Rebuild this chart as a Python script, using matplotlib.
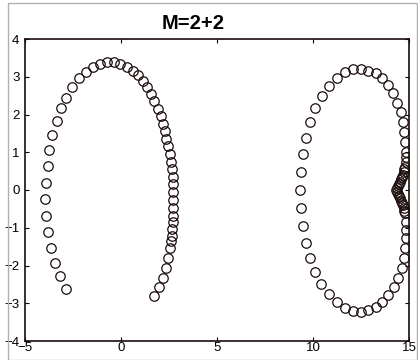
import numpy as np
import matplotlib
matplotlib.use('Agg')
import matplotlib.pyplot as plt
from matplotlib.patches import Rectangle

plt.rcParams['font.family'] = ['Liberation Sans', 'DejaVu Sans']

# left arc, from the lower left end round the top to the lower right end
left_x = [-2.85, -3.16, -3.42, -3.65, -3.79, -3.89, -3.94, -3.89, -3.82, -3.73, -3.58, -3.35,
          -3.12, -2.88, -2.54, -2.17, -1.82, -1.44, -1.09, -0.73, -0.36, -0.04, 0.30, 0.61,
          0.89, 1.13, 1.34, 1.55, 1.73, 1.93, 2.10, 2.19, 2.27, 2.36, 2.47, 2.55, 2.60, 2.66,
          2.69, 2.71, 2.73, 2.73, 2.73, 2.73, 2.71, 2.67, 2.64, 2.58, 2.53, 2.45, 2.34, 2.17,
          1.98, 1.72]
left_y = [-2.62, -2.27, -1.93, -1.53, -1.10, -0.69, -0.24, 0.19, 0.64, 1.06, 1.46, 1.83,
          2.18, 2.45, 2.72, 2.97, 3.13, 3.27, 3.34, 3.38, 3.38, 3.34, 3.26, 3.15,
          3.05, 2.89, 2.72, 2.54, 2.36, 2.15, 1.96, 1.74, 1.55, 1.36, 1.16, 0.95, 0.75, 0.55,
          0.34, 0.15, -0.05, -0.26, -0.48, -0.69, -0.86, -1.03, -1.22, -1.36, -1.53, -1.79, -2.07, -2.32,
          -2.57, -2.80]

# right loop, counter-clockwise from the dent on the right side
right_x = [14.34, 14.38, 14.43, 14.48, 14.53, 14.58, 14.63, 14.68, 14.72, 14.76,
           14.80, 14.82, 14.84, 14.84, 14.79, 14.74, 14.67, 14.57, 14.36, 14.18,
           13.89, 13.58, 13.27, 12.86, 12.48, 12.07, 11.68, 11.27, 10.85, 10.45, 10.12,
           9.84, 9.62, 9.46, 9.36, 9.31, 9.36, 9.46, 9.64, 9.84, 10.12, 10.44, 10.82,
           11.23, 11.65, 12.07, 12.48, 12.86, 13.27, 13.58, 13.89, 14.20, 14.41, 14.62,
           14.74, 14.80, 14.83, 14.84, 14.82, 14.80, 14.76, 14.72, 14.68, 14.63, 14.58,
           14.53, 14.48, 14.43, 14.38]
right_y = [0.00, 0.05, 0.10, 0.16, 0.22, 0.28, 0.34, 0.41, 0.48, 0.55,
           0.62, 0.75, 0.88, 1.01, 1.28, 1.54, 1.81, 2.07, 2.31, 2.56,
           2.78, 2.96, 3.09, 3.16, 3.21, 3.20, 3.13, 2.97, 2.75, 2.49, 2.16,
           1.81, 1.39, 0.95, 0.47, 0.00, -0.47, -0.95, -1.40, -1.79, -2.17, -2.48, -2.75,
           -2.96, -3.12, -3.20, -3.22, -3.17, -3.09, -2.97, -2.77, -2.56, -2.33, -2.07,
           -1.81, -1.54, -1.28, -1.06, -0.84, -0.62, -0.55, -0.48, -0.41, -0.34, -0.28,
           -0.22, -0.16, -0.10, -0.05]

xticks = [-5, 0, 5, 10, 15]
yticks = [-4, -3, -2, -1, 0, 1, 2, 3, 4]

fig = plt.figure(figsize=(4.18, 3.60), dpi=100)
ax = fig.add_axes([25/418, 19/360, 384/418, 302/360])

fig.patches.append(Rectangle((8/418, 0), 409/418, 357/360, transform=fig.transFigure,
                             fill=False, edgecolor='#b0b0b0', linewidth=1))

for xs, ys in [(left_x, left_y), (right_x, right_y)]:
    ax.plot(xs, ys, 'o', markersize=6.8, markerfacecolor='none',
            markeredgecolor='#1c0c0c', markeredgewidth=0.9, linestyle='none')

ax.set_xlim(-5, 15)
ax.set_ylim(-4, 4)
ax.set_xticks(xticks)
ax.set_yticks(yticks)
ax.tick_params(direction='in', length=3, width=0.8, top=True, right=True, labelsize=9.5)
ax.tick_params(axis='x', pad=0.5)
ax.tick_params(axis='y', pad=4)
for s in ax.spines.values():
    s.set_linewidth(1.2)
    s.set_color('#1c0c0c')

fig.text(193.5/418, 0.934, 'M=2+2', ha='center', va='center', fontsize=14.5, fontweight='bold')

fig.savefig('out.png', dpi=100)
